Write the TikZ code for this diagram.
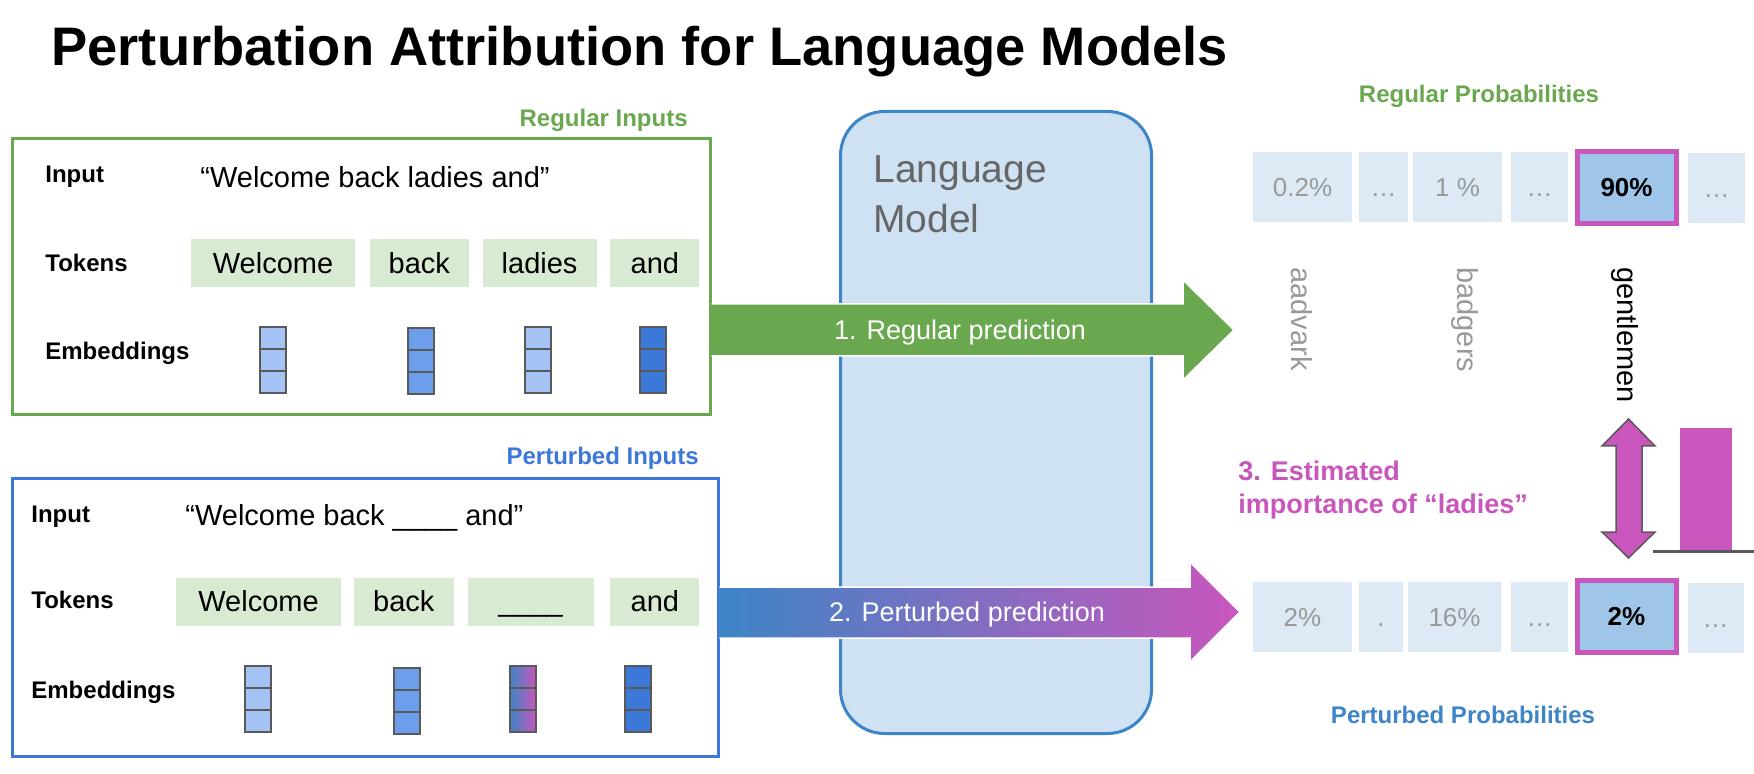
\documentclass[tikz,border=0pt]{standalone}
\usepackage{fontspec}
\setmainfont{Liberation Sans}
\usepackage{tikz}
\usetikzlibrary{positioning,fit}

\definecolor{regGreen}{HTML}{6AA84F}
\definecolor{pertBlue}{HTML}{3C78D8}
\definecolor{lmBlue}{HTML}{3D85C6}
\definecolor{lmFill}{HTML}{CFE2F3}
\definecolor{lmText}{HTML}{666666}
\definecolor{tokFill}{HTML}{D9EAD3}
\definecolor{probFill}{HTML}{DDEAF6}
\definecolor{hiFill}{HTML}{9FC5E8}
\definecolor{impMagenta}{HTML}{C956BC}
\definecolor{embLight}{HTML}{A4C2F4}
\definecolor{embMid}{HTML}{6D9EEB}
\definecolor{embDark}{HTML}{3C78D8}
\definecolor{embEdge}{HTML}{595959}
\definecolor{softGray}{HTML}{999999}

\tikzset{node distance=7pt, auto,
  inbox/.style={draw, line width=1.5pt, inner sep=0pt},
  lmbox/.style={draw=lmBlue, fill=lmFill, line width=1.5pt, rounded corners=22pt, inner sep=0pt},
  heading/.style={anchor=base, inner sep=0pt, font=\fontsize{12pt}{14pt}\selectfont\bfseries},
  rowlabel/.style={anchor=base west, inner sep=0pt, font=\fontsize{12pt}{14pt}\selectfont\bfseries},
  sentence/.style={anchor=base west, inner sep=0pt, font=\fontsize{14.5pt}{17pt}\selectfont},
  token/.style={fill=tokFill, inner sep=0pt, minimum height=24pt, text height=10.4pt, text depth=0pt,
    font=\fontsize{14.5pt}{17pt}\selectfont},
  embbar/.style={draw=embEdge, line width=1pt, inner sep=0pt, minimum width=13pt, minimum height=33pt,
    path picture={\draw[embEdge, line width=1pt]
      ([yshift=-11pt]path picture bounding box.north west) -- ([yshift=-11pt]path picture bounding box.north east)
      ([yshift=-22pt]path picture bounding box.north west) -- ([yshift=-22pt]path picture bounding box.north east);}},
  prob/.style={fill=probFill, inner sep=0pt, minimum height=35pt, text height=9.3pt, text depth=0pt,
    text=softGray, font=\fontsize{13pt}{15pt}\selectfont},
  probhi/.style={prob, fill=hiFill, draw=impMagenta, line width=2.5pt, minimum height=36pt,
    text=black, font=\fontsize{13pt}{15pt}\selectfont\bfseries},
  vocab/.style={rotate=-90, anchor=west, inner sep=0pt, font=\fontsize{14.5pt}{17pt}\selectfont},
  predlabel/.style={text=white, inner sep=0pt, text height=9.7pt, text depth=0pt, font=\fontsize{13.5pt}{16pt}\selectfont},
  fatarrow/.style={draw=white, line width=0.75pt}
}

\begin{document}
\begin{tikzpicture}[x=0.5pt, y=-0.5pt]
\useasboundingbox (0,0) rectangle (1754,774);

\node[anchor=base west, inner sep=0pt, font=\fontsize{27.15pt}{32pt}\selectfont\bfseries] (title) at (51,66)
  {Perturbation Attribution for Language Models};

% regular inputs
\node[inbox, draw=regGreen, fit={(12,139) (710,415)}] (regbox) {};
\node[heading, anchor=base east, text=regGreen] (reghead) at (688,127) {Regular Inputs};
\node[rowlabel] (rinput) at (45,183) {Input};
\node[rowlabel] (rtokens) at (45,272) {Tokens};
\node[rowlabel] (rembed) at (45,360) {Embeddings};
\node[sentence] (rsent) at (200,188) {“Welcome back ladies and”};
\node[token, minimum width=82pt] (rt1) at (273,263) {Welcome};
\node[token, minimum width=49.5pt, right=of rt1] (rt2) {back};
\node[token, minimum width=57pt, right=6.5pt of rt2] (rt3) {ladies};
\node[token, minimum width=44.5pt, right=6.5pt of rt3] (rt4) {and};
\node[embbar, fill=embLight] (re1) at (273,360) {};
\node[embbar, fill=embMid] (re2) at (421,361.5) {};
\node[embbar, fill=embLight] (re3) at (538,360) {};
\node[embbar, fill=embDark] (re4) at (653,360) {};

% perturbed inputs
\node[inbox, draw=pertBlue, fit={(12,478) (718,756)}] (pertbox) {};
\node[heading, anchor=base east, text=pertBlue] (perthead) at (699,465) {Perturbed Inputs};
\node[rowlabel] (pinput) at (31,522) {Input};
\node[rowlabel] (ptokens) at (31,608) {Tokens};
\node[rowlabel] (pembed) at (31,698) {Embeddings};
\node[sentence] (psent) at (185,525) {“Welcome back \_\_\_\_ and”};
\node[token, minimum width=82.5pt] (pt1) at (258.5,601.5) {Welcome};
\node[token, minimum width=50pt, right=6pt of pt1] (pt2) {back};
\node[token, minimum width=63pt, right=6.5pt of pt2] (pt3) {\_\_\_\_};
\node[token, minimum width=44.5pt, right=8pt of pt3] (pt4) {and};
\node[embbar, fill=embLight] (pe1) at (258,698.5) {};
\node[embbar, fill=embMid] (pe2) at (407,700.5) {};
\node[embbar, left color=lmBlue, right color=impMagenta] (pe3) at (523,698.5) {};
\node[embbar, fill=embDark] (pe4) at (638,698.5) {};

% language model
\node[lmbox, fit={(840.5,111.5) (1151.5,733.5)}] (lm) {};
\node[anchor=north west, inner sep=0pt, align=left, text=lmText, font=\fontsize{19.5pt}{25pt}\selectfont]
  (lmtext) at (873,155) {Language\\Model};

\draw[fatarrow, fill=regGreen] (regbox.east |- 0,304) -- (1183,304) -- (1183,280) -- (1234,330)
  -- (1183,380) -- (1183,356) -- (regbox.east |- 0,356);
\node[predlabel] (pred1) at (960,330) {1. Regular prediction};
\draw[fatarrow, left color=lmBlue, right color=impMagenta] (pertbox.east |- 0,587) -- (1190,587) -- (1190,562)
  -- (1240,612) -- (1190,662) -- (1190,638) -- (pertbox.east |- 0,638);
\node[predlabel] (pred2) at (967,612) {2. Perturbed prediction};

% regular probabilities
\node[heading, text=regGreen] (rprobhead) at (1479,103) {Regular Probabilities};
\node[prob, minimum width=49.5pt] (rp1) at (1302.5,187) {0.2\%};
\node[prob, minimum width=24.5pt] (rp2) at (1383.5,187) {…};
\node[prob, minimum width=44.5pt] (rp3) at (1457.5,187) {1 \%};
\node[prob, minimum width=28.5pt] (rp4) at (1539.5,187) {…};
\node[probhi, minimum width=49.5pt] (rp5) at (1626.5,187.5) {90\%};
\node[prob, minimum width=28.5pt] (rp6) at (1716.5,188.5) {…};
\node[vocab, text=softGray] (w1) at (1302,267) {aadvark};
\node[vocab, text=softGray] (w2) at (1465,267) {badgers};
\node[vocab, text=black] (w3) at (1625,267) {gentlemen};

% perturbed probabilities
\node[prob, minimum width=49.5pt] (pp1) at (1302.5,617) {2\%};
\node[prob, minimum width=22pt] (pp2) at (1381,617) {.};
\node[prob, minimum width=46.5pt] (pp3) at (1454.5,617) {16\%};
\node[prob, minimum width=28.5pt] (pp4) at (1539.5,617) {…};
\node[probhi, minimum width=49.5pt] (pp5) at (1626.5,616.5) {2\%};
\node[prob, minimum width=28pt] (pp6) at (1715.5,618) {…};
\node[heading, text=lmBlue] (pprobhead) at (1463,723) {Perturbed Probabilities};

% importance
\node[anchor=north west, inner sep=0pt, align=left, text=impMagenta, font=\fontsize{13.5pt}{16.5pt}\selectfont\bfseries]
  (imp) at (1238,461) {3. Estimated\\importance of “ladies”};
\draw[embEdge, line width=0.75pt, fill=impMagenta] (1628.5,419) -- (1655,446) -- (1642,446) -- (1642,532)
  -- (1655,532) -- (1628.5,558) -- (1602,532) -- (1616,532) -- (1616,446) -- (1602,446) -- cycle;
\fill[impMagenta] (1680,428) rectangle (1732,550);
\draw[embEdge, line width=1.5pt] (1653,551) -- (1754,551);
\end{tikzpicture}
\end{document}
